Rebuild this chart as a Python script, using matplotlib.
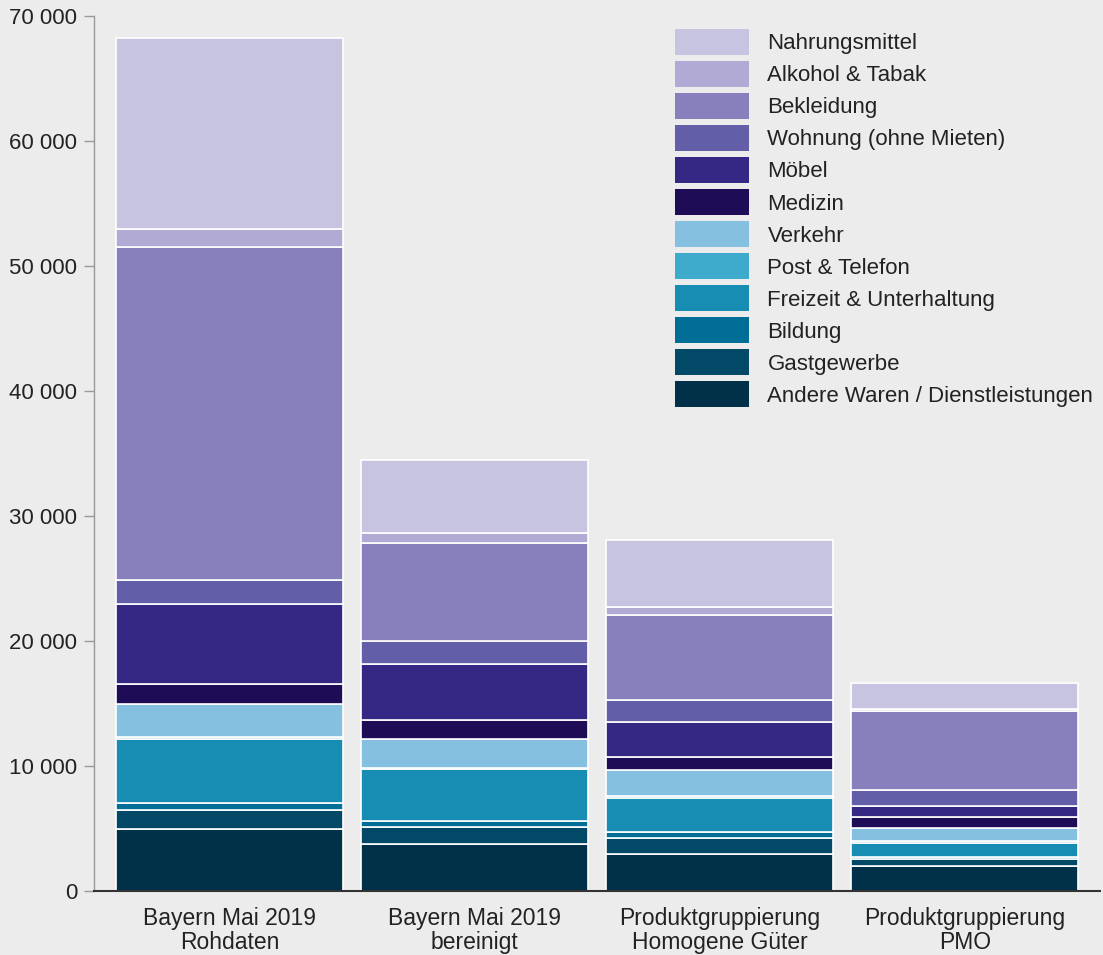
import numpy as np
import matplotlib
matplotlib.use("Agg")
import matplotlib.pyplot as plt
from matplotlib.ticker import FuncFormatter

plt.rcParams['font.family'] = ['Liberation Sans', 'DejaVu Sans']

groups = ["Bayern Mai 2019\nRohdaten", "Bayern Mai 2019\nbereinigt",
          "Produktgruppierung\nHomogene Güter", "Produktgruppierung\nPMO"]

# bottom -> top
categories = ["Andere Waren / Dienstleistungen", "Gastgewerbe", "Bildung",
              "Freizeit & Unterhaltung", "Post & Telefon", "Verkehr", "Medizin",
              "Möbel", "Wohnung (ohne Mieten)", "Bekleidung", "Alkohol & Tabak",
              "Nahrungsmittel"]

andere     = [5020, 3770, 3000, 2010]
gast       = [1520, 1410, 1300, 610]
bildung    = [510, 480, 480, 160]
freizeit   = [5140, 4110, 2720, 1120]
post       = [180, 130, 130, 140]
verkehr    = [2630, 2300, 2080, 1040]
medizin    = [1590, 1500, 1070, 900]
moebel     = [6410, 4490, 2770, 850]
wohnung    = [1900, 1810, 1760, 1260]
bekleidung = [26600, 7860, 6820, 6360]
alkohol    = [1460, 800, 590, 140]
nahrung    = [15240, 5860, 5350, 2050]

series = [andere, gast, bildung, freizeit, post, verkehr, medizin,
          moebel, wohnung, bekleidung, alkohol, nahrung]

colors = ['#003148', '#014966', '#006e96', '#178db4', '#3eaacc', '#85c0e0',
          '#1f0c57', '#352884', '#635ea8', '#8780bd', '#b0aad4', '#c7c4e2']

BG = '#ececec'
fig = plt.figure(figsize=(11.03, 9.55), dpi=100, facecolor=BG)
ax = fig.add_axes([0.0852, 0.0665, 0.9118, 0.9171], facecolor=BG)

x = np.arange(len(groups))
bottom = np.zeros(len(groups))
handles = []
for vals, col, name in zip(series, colors, categories):
    h = ax.bar(x, vals, width=0.925, bottom=bottom, color=col,
               edgecolor='white', linewidth=1.2, label=name)
    handles.append(h)
    bottom += np.array(vals)

ax.set_xlim(-0.552, 3.55)
ax.set_ylim(0, 70000)
ax.set_yticks(np.arange(0, 70001, 10000))
ax.yaxis.set_major_formatter(FuncFormatter(lambda v, p: f"{int(v):,}".replace(",", " ")))
ax.set_xticks(x)
ax.set_xticklabels(groups, fontsize=16.5, color='#222222', linespacing=1.08)
ax.tick_params(axis='x', length=0, pad=11)
ax.tick_params(axis='y', length=7, width=1, color='#999999',
               labelsize=16, labelcolor='#222222', pad=5)

for s in ['top', 'right']:
    ax.spines[s].set_visible(False)
ax.spines['left'].set_color('#999999')
ax.spines['left'].set_linewidth(1)
ax.spines['bottom'].set_color('#333333')
ax.spines['bottom'].set_linewidth(1.5)

leg = ax.legend(handles[::-1], categories[::-1], loc='upper left',
                bbox_to_anchor=(0.564, 1.0), frameon=False, fontsize=16,
                handlelength=3.33, handleheight=1.425, labelspacing=0.27,
                handletextpad=0.85, borderaxespad=0.2)
for t in leg.get_texts():
    t.set_color('#222222')
for p in leg.get_patches():
    p.set_edgecolor('none')

plt.savefig("out.png", dpi=100, facecolor=BG)
plt.close()
